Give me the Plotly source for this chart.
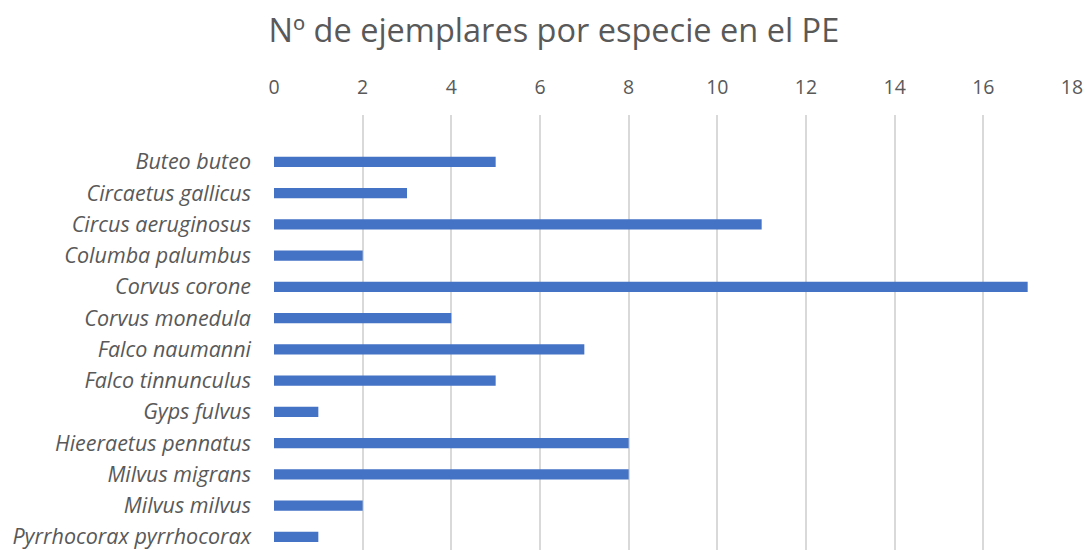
import plotly.graph_objects as go

species = ["Buteo buteo", "Circaetus gallicus", "Circus aeruginosus", "Columba palumbus",
           "Corvus corone", "Corvus monedula", "Falco naumanni", "Falco tinnunculus",
           "Gyps fulvus", "Hieeraetus pennatus", "Milvus migrans", "Milvus milvus",
           "Pyrrhocorax pyrrhocorax"]
counts = [5, 3, 11, 2, 17, 4, 7, 5, 1, 8, 8, 2, 1]
x_ticks = [0, 2, 4, 6, 8, 10, 12, 14, 16, 18]
title_text = "Nº de ejemplares por especie en el PE"

positions = list(range(len(species)))

fig = go.Figure(go.Bar(
    x=counts, y=positions, orientation="h",
    marker=dict(color="#4472C4", line=dict(width=0)),
    width=0.33,
))

FONT = "Open Sans, Liberation Sans, sans-serif"
fig.update_layout(
    width=1086, height=550,
    margin=dict(l=273.5, r=13.5, t=115, b=0, autoexpand=False),
    paper_bgcolor="white", plot_bgcolor="white",
    showlegend=False,
    title=dict(text=title_text, x=0.51, xanchor="center", y=0.945, yanchor="middle",
               font=dict(family=FONT, size=32.5, color="#595959")),
    xaxis=dict(side="top", range=[0, 18], tickvals=x_ticks, ticktext=[str(v) for v in x_ticks],
               showgrid=True, gridcolor="#D9D9D9", gridwidth=1.5, zeroline=False,
               showline=False, ticks="", ticklabelstandoff=16, ticklabeloverflow="allow",
               tickfont=dict(family=FONT, size=19.5, color="#595959")),
    yaxis=dict(range=[12.42, -1.5], tickvals=positions, ticktext=["<i>%s</i>" % s for s in species],
               showgrid=False, zeroline=False, showline=False, ticks="",
               ticklabelstandoff=22, ticklabeloverflow="allow",
               tickfont=dict(family=FONT, size=21.5, color="#595959")),
)

fig.write_html("out.html", config={"displayModeBar": False},
               post_script="document.body.style.margin='0';document.body.style.overflow='hidden';")
